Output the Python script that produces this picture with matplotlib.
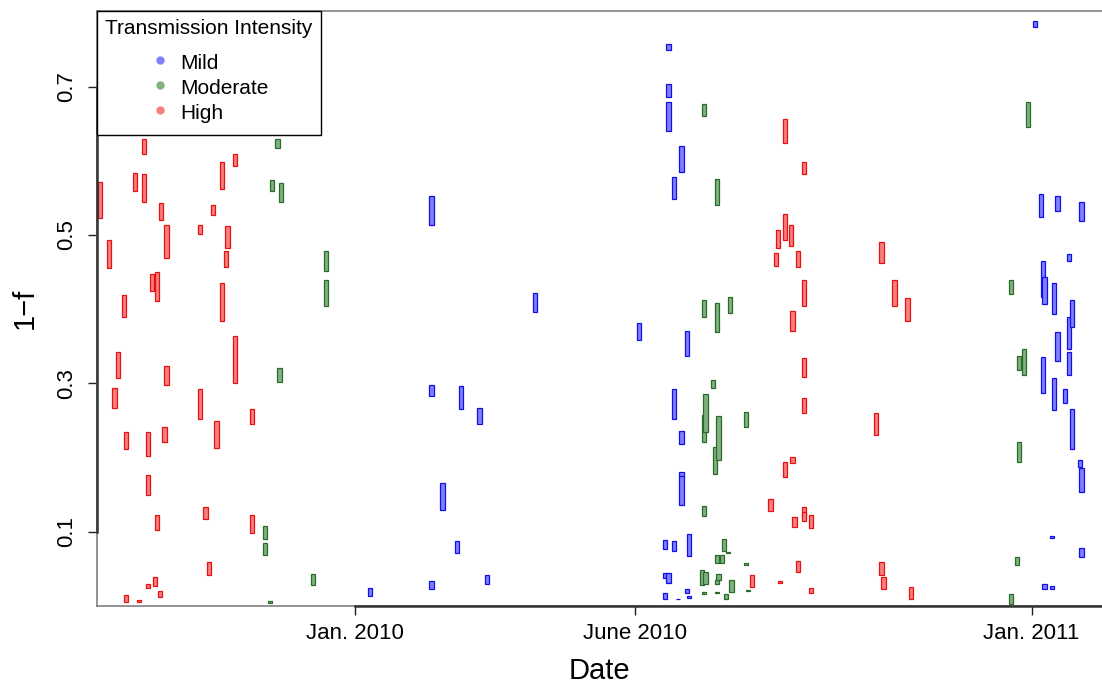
import numpy as np
import matplotlib
matplotlib.use("Agg")
import matplotlib.pyplot as plt
import matplotlib.dates as mdates
import matplotlib.transforms as mtransforms
from matplotlib.lines import Line2D

plt.rcParams['font.family'] = ['Liberation Sans', 'DejaVu Sans']

# days after 2010-01-01, lower and upper bound of 1-f
high_day = [-138, -133, -128, -130, -125, -124, -124, -119, -117, -114, -114, -112, -112, -112,
            -110, -108, -107, -107, -105.5, -105, -103, -102, -102, -84, -84, -81, -79, -77, -75,
            -72, -72, -70, -69, -65, -65, -56, -56,
            214, 224, 227, 228, 229, 232, 232, 232, 235, 236, 236, 237, 239, 239,
            242, 242, 242, 242, 242, 242, 246, 246,
            281, 284, 284, 285, 291, 298, 300]
high_lo = [0.523, 0.455, 0.307, 0.267, 0.389, 0.211, 0.005, 0.559, 0.006, 0.609, 0.545, 0.202, 0.149, 0.024,
           0.424, 0.027, 0.411, 0.102, 0.012, 0.520, 0.221, 0.469, 0.298, 0.501, 0.252, 0.117, 0.042, 0.527, 0.213,
           0.562, 0.384, 0.457, 0.482, 0.593, 0.300, 0.245, 0.098,
           0.025, 0.128, 0.458, 0.483, 0.031, 0.624, 0.493, 0.174, 0.485, 0.370, 0.193, 0.106, 0.457, 0.046,
           0.582, 0.404, 0.308, 0.260, 0.120, 0.114, 0.105, 0.017,
           0.230, 0.462, 0.042, 0.023, 0.404, 0.384, 0.009]
high_hi = [0.571, 0.494, 0.342, 0.294, 0.419, 0.234, 0.015, 0.583, 0.008, 0.629, 0.582, 0.234, 0.176, 0.030,
           0.448, 0.039, 0.450, 0.123, 0.020, 0.543, 0.241, 0.514, 0.323, 0.514, 0.292, 0.133, 0.059, 0.540, 0.250,
           0.598, 0.436, 0.478, 0.512, 0.609, 0.364, 0.265, 0.123,
           0.042, 0.144, 0.476, 0.507, 0.034, 0.656, 0.528, 0.194, 0.514, 0.397, 0.201, 0.120, 0.479, 0.061,
           0.599, 0.439, 0.334, 0.280, 0.133, 0.127, 0.123, 0.024,
           0.260, 0.490, 0.059, 0.039, 0.440, 0.415, 0.025]

mod_day = [-49, -49, -46, -45, -42, -41, -40, -23, -16, -16,
           187, 188, 188, 188, 188, 188, 189, 189, 193, 194, 195, 195, 195, 195, 195,
           196, 196, 198, 199, 200, 201, 202, 203, 211, 211, 212,
           354, 354, 357, 358, 358, 361, 363]
mod_lo = [0.090, 0.069, 0.004, 0.559, 0.618, 0.302, 0.544, 0.028, 0.451, 0.405,
          0.028, 0.660, 0.389, 0.221, 0.121, 0.016, 0.234, 0.030, 0.294, 0.178, 0.541, 0.369, 0.058, 0.029, 0.018,
          0.197, 0.035, 0.058, 0.074, 0.009, 0.071, 0.395, 0.019, 0.241, 0.055, 0.020,
          0.420, 0.003, 0.055, 0.318, 0.194, 0.312, 0.646]
mod_hi = [0.108, 0.085, 0.007, 0.574, 0.630, 0.321, 0.570, 0.043, 0.478, 0.440,
          0.049, 0.676, 0.413, 0.257, 0.135, 0.019, 0.286, 0.046, 0.304, 0.214, 0.576, 0.408, 0.069, 0.035, 0.019,
          0.256, 0.043, 0.069, 0.090, 0.016, 0.073, 0.416, 0.035, 0.261, 0.058, 0.021,
          0.440, 0.016, 0.066, 0.337, 0.221, 0.346, 0.680]

mild_day = [8, 41, 41, 41, 47, 55, 57, 67, 71, 97,
            153, 167, 167, 167, 169, 169, 169, 169, 172, 172, 172, 174, 176, 176, 176, 176,
            179, 179, 180, 180,
            367, 370, 371, 371, 372, 372, 376, 376, 377, 377, 379, 379, 383, 385, 385, 385,
            387, 387, 391, 392, 392, 392]
mild_lo = [0.013, 0.513, 0.283, 0.023, 0.129, 0.071, 0.265, 0.245, 0.030, 0.396,
           0.358, 0.077, 0.038, 0.010, 0.749, 0.686, 0.640, 0.031, 0.548, 0.252, 0.074, 0.009, 0.585, 0.218, 0.174, 0.136,
           0.337, 0.018, 0.067, 0.011,
           0.781, 0.524, 0.417, 0.287, 0.407, 0.023, 0.092, 0.023, 0.393, 0.264, 0.532, 0.330, 0.273, 0.465, 0.347, 0.311,
           0.376, 0.211, 0.187, 0.519, 0.153, 0.066]
mild_hi = [0.024, 0.552, 0.298, 0.034, 0.166, 0.088, 0.296, 0.267, 0.042, 0.422,
           0.381, 0.089, 0.045, 0.018, 0.757, 0.703, 0.679, 0.044, 0.578, 0.292, 0.088, 0.010, 0.620, 0.236, 0.180, 0.175,
           0.370, 0.023, 0.097, 0.013,
           0.789, 0.555, 0.465, 0.335, 0.443, 0.030, 0.094, 0.027, 0.435, 0.307, 0.552, 0.369, 0.292, 0.475, 0.390, 0.343,
           0.412, 0.265, 0.197, 0.544, 0.186, 0.078]

groups = ['Mild', 'Moderate', 'High']
tick_dates = ['2010-01-01', '2010-06-01', '2011-01-01']
tick_labels = ['Jan. 2010', 'June 2010', 'Jan. 2011']

fills = {'Mild': '#8080FF', 'Moderate': '#80B280', 'High': '#F58080'}
edges = {'Mild': '#1010E8', 'Moderate': '#2A6A2A', 'High': '#E81010'}

origin = mdates.date2num(np.datetime64('2010-01-01'))

fig = plt.figure(figsize=(11.02, 6.85), dpi=100)
ax = fig.add_axes([97 / 1102, 79 / 685, 1005 / 1102, 595 / 685])

data = {'Mild': (mild_day, mild_lo, mild_hi),
        'Moderate': (mod_day, mod_lo, mod_hi),
        'High': (high_day, high_lo, high_hi)}

for g in ['High', 'Moderate', 'Mild']:
    d, lo, hi = data[g]
    x = origin + np.array(d, dtype=float)
    lo = np.array(lo)
    hi = np.array(hi)
    ax.bar(x, hi - lo, bottom=lo, width=2.3, facecolor=fills[g], edgecolor=edges[g],
           linewidth=0.9, zorder=3)

ax.set_xlim(origin - 139.5, origin + 403)
ax.set_ylim(0, 0.802)

ax.set_xticks([mdates.date2num(np.datetime64(t)) for t in tick_dates])
ax.set_xticklabels(tick_labels)
ax.set_yticks([0.1, 0.3, 0.5, 0.7])
ax.set_yticklabels(['0.1', '0.3', '0.5', '0.7'])
for lab in ax.get_yticklabels():
    lab.set_rotation(90)
    lab.set_va('center')

ax.tick_params(axis='both', labelsize=16, length=6.5, width=1, color='#222222')
ax.tick_params(axis='y', pad=8)
ax.tick_params(axis='x', pad=6)

for s in ['top', 'bottom', 'left']:
    ax.spines[s].set_color('#808080')
    ax.spines[s].set_linewidth(1.2)
ax.spines['right'].set_visible(False)

# darker axis lines between the ticks, as R's axis() draws them
tb = mtransforms.blended_transform_factory(ax.transData, ax.transAxes)
ax.plot([mdates.date2num(np.datetime64(tick_dates[0])), origin + 403], [0, 0], color='#333333',
        lw=1.8, transform=tb, clip_on=False, zorder=5)
tl = mtransforms.blended_transform_factory(ax.transAxes, ax.transData)
ax.plot([0, 0], [0.1, 0.7], color='#333333', lw=1.8, transform=tl, clip_on=False, zorder=5)

ax.set_xlabel('Date', fontsize=21, labelpad=9)
ax.set_ylabel('1\u2212f', fontsize=21, labelpad=12)

handles = [Line2D([], [], marker='o', linestyle='none', markersize=5,
                  markerfacecolor=fills[g], markeredgecolor=fills[g]) for g in groups]
leg = ax.legend(handles, groups, title='Transmission Intensity', loc='upper left',
                bbox_to_anchor=(0, 1), borderaxespad=0, fontsize=15, title_fontsize=15,
                fancybox=False, framealpha=1, edgecolor='black', borderpad=0.4,
                labelspacing=0.0, handleheight=1.47, handlelength=1.0, handletextpad=0.45)
leg.get_frame().set_linewidth(1.0)
# a bit more room below the title and below the last entry, as in the R legend
leg._legend_box.sep = 7.2
leg._legend_handle_box.pad = 1.2
leg.set_zorder(10)

fig.savefig('out.png', dpi=100)
